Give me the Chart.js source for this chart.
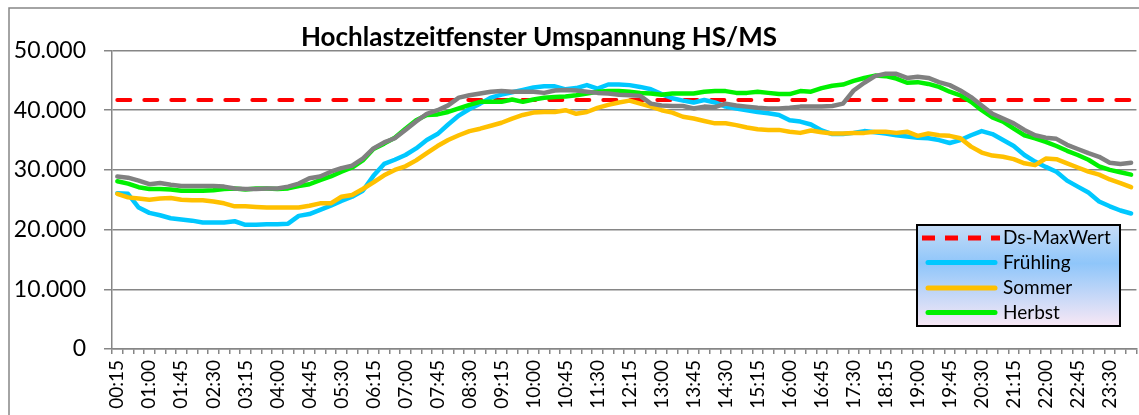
<!DOCTYPE html>
<html>
<head>
<meta charset="utf-8">
<script src="https://cdn.jsdelivr.net/npm/chart.js@4/dist/chart.umd.min.js"></script>
<style>
    html, body { margin: 0; padding: 0; background: #fff; overflow: hidden; }
    #wrap { width: 1160px; height: 415px; }
</style>
</head>
<body>
<div id="wrap"><canvas id="chart" width="1160" height="415"></canvas></div>
<script>
// quarter-hour time stamps 00:15 .. 24:00
const times = [];
for (let m = 15; m <= 1440; m += 15) {
    times.push(String(Math.floor(m / 60)).padStart(2, '0') + ':' + String(m % 60).padStart(2, '0'));
}

const dsMaxWert = 41700;

const fruehling = [
    26100, 26000, 23700, 22800, 22400, 21900, 21700, 21500, 21200, 21200, 21200, 21400,
    20800, 20800, 20900, 20900, 21000, 22300, 22600, 23300, 24000, 24800, 25500, 26500,
    29000, 31000, 31700, 32500, 33600, 35000, 36000, 37600, 39100, 40200, 41100, 42100,
    42600, 43000, 43400, 43800, 44000, 44000, 43500, 43700, 44200, 43600, 44300, 44300,
    44200, 43900, 43500, 42700, 42000, 41600, 41300, 41700, 41300, 40600, 40300, 40000,
    39700, 39500, 39200, 38300, 38100, 37600, 36600, 36000, 36000, 36200, 36500, 36300,
    36100, 35800, 35600, 35400, 35300, 35000, 34500, 35000, 35800, 36500, 36000, 35000,
    34000, 32500, 31400, 30500, 29700, 28200, 27200, 26200, 24700, 23900, 23200, 22700
];

const sommer = [
    26000, 25400, 25200, 25000, 25200, 25300, 25000, 24900, 24900, 24700, 24400, 23900,
    23900, 23800, 23700, 23700, 23700, 23700, 24000, 24400, 24400, 25500, 25800, 26800,
    27900, 29100, 30000, 30600, 31600, 32800, 34000, 35000, 35800, 36500, 36900, 37400,
    37900, 38600, 39200, 39600, 39700, 39700, 40000, 39400, 39700, 40400, 40900, 41300,
    41600, 41100, 40600, 40000, 39600, 38900, 38600, 38200, 37800, 37800, 37500, 37100,
    36800, 36700, 36700, 36400, 36200, 36600, 36300, 36100, 36100, 36200, 36200, 36400,
    36400, 36200, 36400, 35700, 36100, 35800, 35700, 35300, 33900, 32900, 32400, 32200,
    31800, 31100, 30800, 31900, 31800, 31100, 30400, 29700, 29200, 28400, 27800, 27100
];

const herbst = [
    28100, 27700, 27100, 26800, 26800, 26700, 26500, 26500, 26500, 26600, 26800, 26900,
    26700, 26900, 26900, 26800, 26900, 27300, 27600, 28300, 28900, 29700, 30400, 31600,
    33500, 34400, 35400, 36900, 38300, 39200, 39300, 39700, 40300, 40900, 41400, 41400,
    41400, 41800, 41400, 41800, 42100, 42200, 42300, 42500, 42800, 43100, 43200, 43200,
    43100, 42900, 42800, 42600, 42800, 42800, 42800, 43100, 43200, 43200, 42900, 42900,
    43100, 42900, 42700, 42700, 43200, 43100, 43700, 44100, 44300, 44900, 45400, 45800,
    45700, 45300, 44600, 44700, 44400, 43900, 43100, 42500, 41400, 40000, 38800, 38100,
    36900, 35800, 35300, 34700, 34000, 33200, 32500, 31700, 30600, 30000, 29600, 29200
];

const winter = [
    28900, 28700, 28200, 27600, 27800, 27500, 27300, 27300, 27300, 27300, 27200, 26900,
    26800, 26800, 26900, 26900, 27200, 27700, 28600, 28900, 29700, 30300, 30700, 31900,
    33600, 34600, 35300, 36700, 38100, 39400, 40000, 40800, 42100, 42500, 42800, 43100,
    43200, 43100, 43100, 43100, 42900, 43300, 43400, 43300, 43100, 42900, 42800, 42600,
    42500, 42400, 41100, 40800, 40700, 40700, 40300, 40600, 40500, 41100, 40800, 40600,
    40400, 40300, 40300, 40400, 40600, 40600, 40600, 40700, 41100, 43300, 44600, 45700,
    46100, 46100, 45400, 45600, 45400, 44700, 44200, 43300, 42200, 40800, 39400, 38600,
    37800, 36700, 35800, 35400, 35200, 34200, 33500, 32800, 32200, 31200, 31000, 31200
];

const legendItems = ['Ds-MaxWert', 'Frühling', 'Sommer', 'Herbst'];

const colors = {
    max: '#ff0000',
    fruehling: '#00c8ff',
    sommer: '#ffc000',
    herbst: '#00f000',
    winter: '#808080'
};

const frame = {
    id: 'frame',
    beforeDraw(chart) {
        const c = chart.ctx;
        c.save();
        c.fillStyle = '#fff';
        c.fillRect(0, 0, chart.width, chart.height);
        c.strokeStyle = '#868686';
        c.lineWidth = 1.5;
        c.strokeRect(9, 8, 1300, 600);
        c.restore();
    },
    afterDraw(chart) {
        const c = chart.ctx;
        c.save();
        c.fillStyle = '#000';
        c.font = 'bold 26px Lato';
        c.textAlign = 'center';
        c.textBaseline = 'alphabetic';
        c.fillText('Hochlastzeitfenster Umspannung HS/MS', 539, 46);

        // legend box
        const x = 917, y = 225, w = 203, h = 101;
        const g = c.createLinearGradient(0, y, 0, y + h);
        g.addColorStop(0, '#c6dcf6');
        g.addColorStop(0.38, '#8fc6fa');
        g.addColorStop(1, '#f8e8f5');
        c.fillStyle = g;
        c.fillRect(x, y, w, h);
        c.strokeStyle = '#000';
        c.lineWidth = 2;
        c.strokeRect(x, y, w, h);

        const rows = [238, 262.5, 288, 312.5];
        const keys = ['max', 'fruehling', 'sommer', 'herbst'];
        rows.forEach((ry, i) => {
            c.beginPath();
            c.strokeStyle = colors[keys[i]];
            c.lineWidth = 5;
            if (i === 0) {
                c.lineCap = 'butt';
                c.setLineDash([13, 10]);
                c.moveTo(922, ry);
                c.lineTo(1000, ry);
            } else {
                c.lineCap = 'round';
                c.setLineDash([]);
                c.moveTo(928, ry);
                c.lineTo(995, ry);
            }
            c.stroke();
            c.setLineDash([]);
            c.fillStyle = '#000';
            c.font = '19px Lato';
            c.textAlign = 'left';
            c.textBaseline = 'middle';
            c.fillText(legendItems[i], 1003, ry);
        });
        c.restore();
    }
};

const lineStyle = {
    fill: false,
    tension: 0,
    pointRadius: 0,
    borderWidth: 4.5,
    borderJoinStyle: 'round',
    borderCapStyle: 'round'
};

new Chart(document.getElementById('chart'), {
    type: 'line',
    data: {
        labels: times,
        datasets: [
            { label: 'Ds-MaxWert', data: times.map(() => dsMaxWert), borderColor: colors.max,
              borderDash: [13, 14], borderCapStyle: 'butt', ...lineStyle, borderWidth: 4, order: 4 },
            { label: 'Frühling', data: fruehling, borderColor: colors.fruehling, ...lineStyle, order: 3 },
            { label: 'Sommer', data: sommer, borderColor: colors.sommer, ...lineStyle, order: 2 },
            { label: 'Herbst', data: herbst, borderColor: colors.herbst, ...lineStyle, order: 1 },
            { label: 'Winter', data: winter, borderColor: colors.winter, ...lineStyle, order: 0 }
        ]
    },
    options: {
        responsive: false,
        animation: false,
        devicePixelRatio: 1,
        layout: { padding: { top: 50.5, right: 18, left: 0, bottom: 0 } },
        plugins: {
            legend: { display: false },
            title: { display: false },
            tooltip: { enabled: false }
        },
        scales: {
            x: {
                offset: true,
                grid: {
                    offset: true,
                    drawOnChartArea: false,
                    drawTicks: true,
                    tickLength: 5,
                    color: '#868686',
                    lineWidth: 1.5
                },
                border: { color: '#868686', width: 1.5 },
                ticks: {
                    autoSkip: false,
                    maxRotation: 90,
                    minRotation: 90,
                    padding: 6,
                    color: '#000',
                    font: { family: 'Lato', size: 19 },
                    callback: (v, i) => (i % 3 === 0 ? times[i] : '')
                },
                afterFit: (s) => { s.height = 66; }
            },
            y: {
                min: 0,
                max: 50000,
                grid: {
                    color: '#868686',
                    lineWidth: 1.5,
                    tickLength: 8
                },
                border: { color: '#868686', width: 1.5 },
                ticks: {
                    stepSize: 10000,
                    padding: 18,
                    color: '#000',
                    font: { family: 'Lato', size: 23 },
                    callback: (v) => v.toLocaleString('de-DE')
                },
                afterFit: (s) => { s.width = 112; }
            }
        }
    },
    plugins: [frame]
});
</script>
</body>
</html>
